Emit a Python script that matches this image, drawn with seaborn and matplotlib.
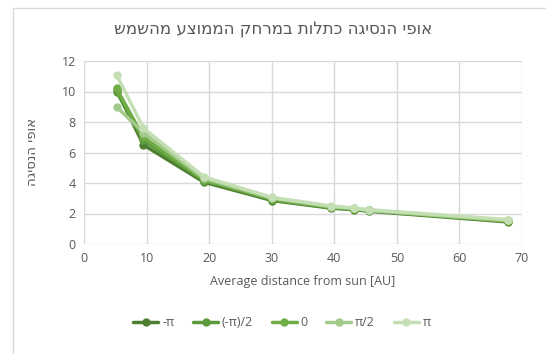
## chart: precession vs. mean distance from the sun, for five phases
import numpy as np
import pandas as pd
import matplotlib
matplotlib.use("Agg")
import matplotlib.pyplot as plt
from matplotlib.patches import Rectangle
import seaborn as sns

## data
distance = [5.2, 9.5, 19.2, 30.1, 39.5, 43.1, 45.5, 67.7]
phase_names = ["-π", "(-π)/2", "0", "π/2", "π"]
val_minus_pi = [10.1, 6.5, 4.05, 2.85, 2.35, 2.25, 2.15, 1.45]
val_minus_half_pi = [10.0, 6.8, 4.15, 2.9, 2.4, 2.3, 2.2, 1.5]
val_zero = [10.2, 7.0, 4.2, 2.95, 2.4, 2.3, 2.2, 1.5]
val_half_pi = [9.0, 7.3, 4.3, 3.0, 2.45, 2.35, 2.2, 1.55]
val_pi = [11.1, 7.6, 4.4, 3.05, 2.5, 2.35, 2.25, 1.6]

colors = ["#4e7f31", "#5c9a3b", "#70ad47", "#a3ca8b", "#c5dfb4"]

## Hebrew texts (reversed for left-to-right drawing)
title_he = "אופי הנסיגה כתלות במרחק הממוצע מהשמש"
ylabel_he = "אופי הנסיגה"

## long table for seaborn
all_vals = [val_minus_pi, val_minus_half_pi, val_zero, val_half_pi, val_pi]
rows = []
for name, vals in zip(phase_names, all_vals):
    for d, v in zip(distance, vals):
        rows.append({"dist": d, "val": v, "phase": name})
df = pd.DataFrame(rows)

sns.set_theme(style="white")
plt.rcParams['font.family'] = ['Open Sans', 'DejaVu Sans']

fig = plt.figure(figsize=(5.46, 3.54), dpi=100)
ax = fig.add_axes([84/546, 1-244/354, (522-84)/546, (244-61)/354])

sns.lineplot(data=df, x="dist", y="val", hue="phase", hue_order=phase_names,
             palette=colors, marker="o", markersize=6, markeredgewidth=0,
             linewidth=2.5, sort=False, estimator=None, ax=ax, legend=True)

ax.set_xlim(0, 70)
ax.set_ylim(0, 12)
ax.set_xticks(np.arange(0, 71, 10))
ax.set_yticks(np.arange(0, 13, 2))
ax.grid(True, color="#d9d9d9", linewidth=1)
ax.set_axisbelow(True)
for s in ax.spines.values():
    s.set_visible(False)
ax.tick_params(length=0, labelsize=9, colors="#595959", pad=6)

ax.set_xlabel("Average distance from sun [AU]", fontsize=9, color="#595959", labelpad=7)
ax.set_ylabel(ylabel_he[::-1], fontsize=9.5, color="#595959", labelpad=16,
              family=['DejaVu Sans'])
fig.text(0.5, 1-30/354, title_he[::-1], ha="center", va="center",
         fontsize=12, color="#595959", family=['DejaVu Sans'])

## legend along the bottom
handles, labels = ax.get_legend_handles_labels()
ax.legend(handles, labels, ncol=5, loc="center", bbox_to_anchor=(282/546, 1-323/354),
          bbox_transform=fig.transFigure, frameon=False, fontsize=9,
          labelcolor="#595959", handlelength=2.0, columnspacing=1.5, handletextpad=0.3)

## chart frame (left/top edges visible)
fig.patches.append(Rectangle((13/546, -0.1), 1.2, 1.1-8/354, transform=fig.transFigure,
                             fill=False, edgecolor="#d9d9d9", linewidth=1))

fig.savefig("out.png", dpi=100)
